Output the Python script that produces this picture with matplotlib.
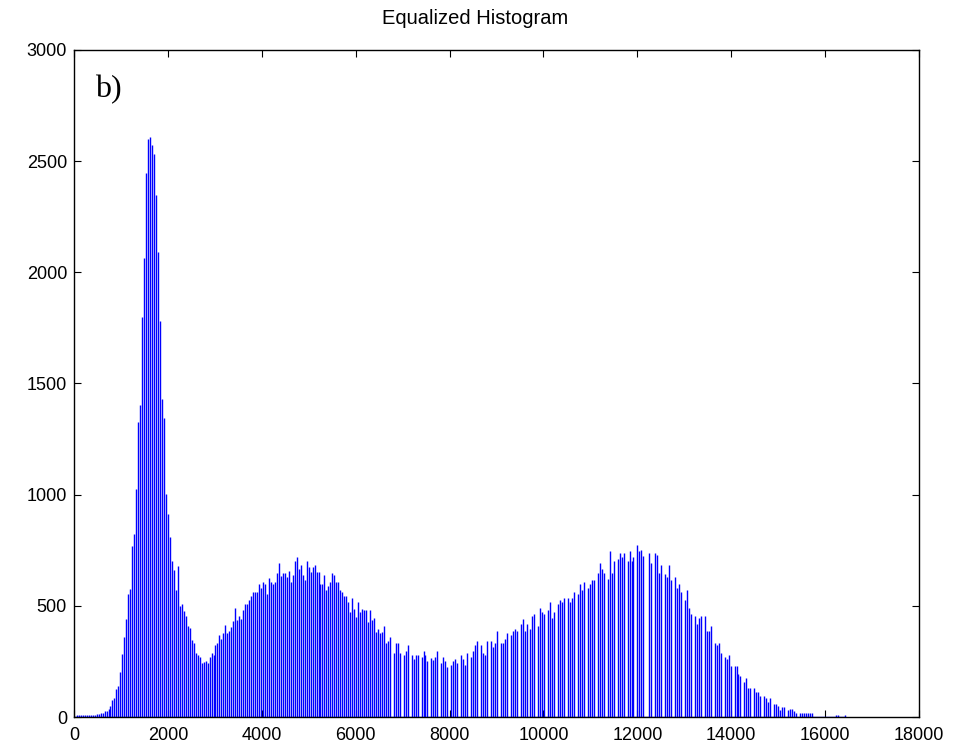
import numpy as np
import matplotlib.pyplot as plt

# histogram counts, left to right (one entry per bin)
counts_low_peak = [
    8, 8, 8, 9, 8, 9, 9, 10, 10, 9, 12, 12,
    17, 17, 25, 25, 34,
    50, 76, 85, 127, 139, 203, 283, 359, 441, 551, 576, 771, 825, 1025,
    1325, 1405, 1800, 2063, 2449, 2598, 2610, 2573, 2531, 2346, 2092, 1780,
    1431, 1346, 1003, 915, 810, 703, 661, 571, 678, 500, 508, 475, 454,
    410, 402, 347, 334, 288, 280, 271, 241, 249, 254, 241, 271,
]
counts_second_bump = [
    289, 279, 324, 331, 368, 353, 376, 412, 376, 386, 403, 431, 490, 436,
    455, 439, 481, 508, 508, 526, 544, 562, 562, 562, 596, 578, 605, 596,
    551, 623, 605, 598, 607, 649, 692, 634, 646, 649, 631, 656, 607, 640,
    701, 718, 665, 683, 640, 614, 701, 674, 650, 674, 683, 650, 650, 598,
    598, 640, 571, 589, 605, 649, 640, 605, 605, 571, 562, 544, 544, 518,
]
counts_valley = [
    472, 533, 488, 448, 517, 472, 488, 481, 481, 428, 481, 436, 446, 383,
    394, 376, 383, 410, 331, 342, 358, 0, 286, 331, 331, 286, 0, 279, 297,
    324, 0, 279, 261, 279, 279, 0, 271, 297, 279, 252, 0, 264, 256, 271,
    297, 0, 244, 271, 253, 226, 0, 235, 252, 262, 244, 0, 279, 261, 235,
    286, 0, 271, 297, 324, 342, 0, 324, 286, 279, 342, 0, 342,
]
counts_third_rise = [
    316, 331, 385, 0, 331, 331, 351, 376, 0, 369, 385, 394, 385, 0, 419,
    439, 385, 419, 0, 394, 454, 463, 0, 410, 490, 472, 463, 0, 481, 517,
    446, 472, 0, 508, 526, 517, 533, 0, 533, 517, 533, 560, 0, 551, 596,
    569, 605, 0, 578, 596, 614, 614, 0, 649, 691, 665, 649, 0, 622, 745,
    649, 701, 0, 710, 736, 719, 736, 0, 701, 745, 701, 719, 0, 772, 745,
]
counts_third_fall = [
    753, 726, 0, 0, 737, 691, 0, 736, 728, 649, 683, 0, 641, 631, 683, 616,
    0, 631, 578, 596, 562, 0, 526, 569, 490, 464, 0, 455, 419, 446, 455, 0,
    455, 386, 386, 411, 0, 331, 324, 331, 288, 0, 270, 262, 279, 228, 0,
    228, 228, 192, 183, 0, 156, 174, 130, 130, 0, 130, 112, 112, 94, 0, 94,
    85, 67, 85, 0, 60, 60, 51, 31,
]
counts_tail = [
    43, 43, 0, 32, 36, 36, 27, 16, 0, 16, 16, 16, 16, 16, 16, 16,
    0, 0, 0, 0, 0, 0, 0, 0, 0, 0, 0, 8, 8, 0, 0, 0, 9,
]

BIN_START = 60
BIN_STEP = 42.2

x_ticks = [0, 2000, 4000, 6000, 8000, 10000, 12000, 14000, 16000, 18000]
y_ticks = [0, 500, 1000, 1500, 2000, 2500, 3000]

plt.rcParams["font.family"] = ["Liberation Sans", "DejaVu Sans"]

counts = np.array(
    counts_low_peak + counts_second_bump + counts_valley
    + counts_third_rise + counts_third_fall + counts_tail
)
bins = BIN_START + np.arange(len(counts)) * BIN_STEP

fig = plt.figure(figsize=(9.63, 7.56), dpi=100)
ax = fig.add_axes([74 / 963, 1 - 717 / 756, 845 / 963, 667 / 756])

ax.vlines(bins, 0, counts, colors="#0000ff", linewidth=1.0)
ax.plot([0, bins[-1]], [0, 0], color="#0000ff", linewidth=1.0)

ax.set_xlim(0, 18000)
ax.set_ylim(0, 3000)
ax.set_xticks(x_ticks)
ax.set_yticks(y_ticks)
ax.tick_params(direction="in", top=True, right=True, length=5, width=0.8,
               labelsize=13, colors="black")
ax.tick_params(axis="x", pad=7)
ax.tick_params(axis="y", pad=5)
for spine in ax.spines.values():
    spine.set_linewidth(1.0)
    spine.set_color("black")

fig.text(475 / 963, 1 - 18 / 756, "Equalized Histogram", ha="center",
         va="center", fontsize=14.5)
ax.text(0.025, 0.94, "b)", transform=ax.transAxes, ha="left", va="center",
        fontsize=23, family="Liberation Serif")

fig.savefig("out.png", dpi=100)
plt.close(fig)
